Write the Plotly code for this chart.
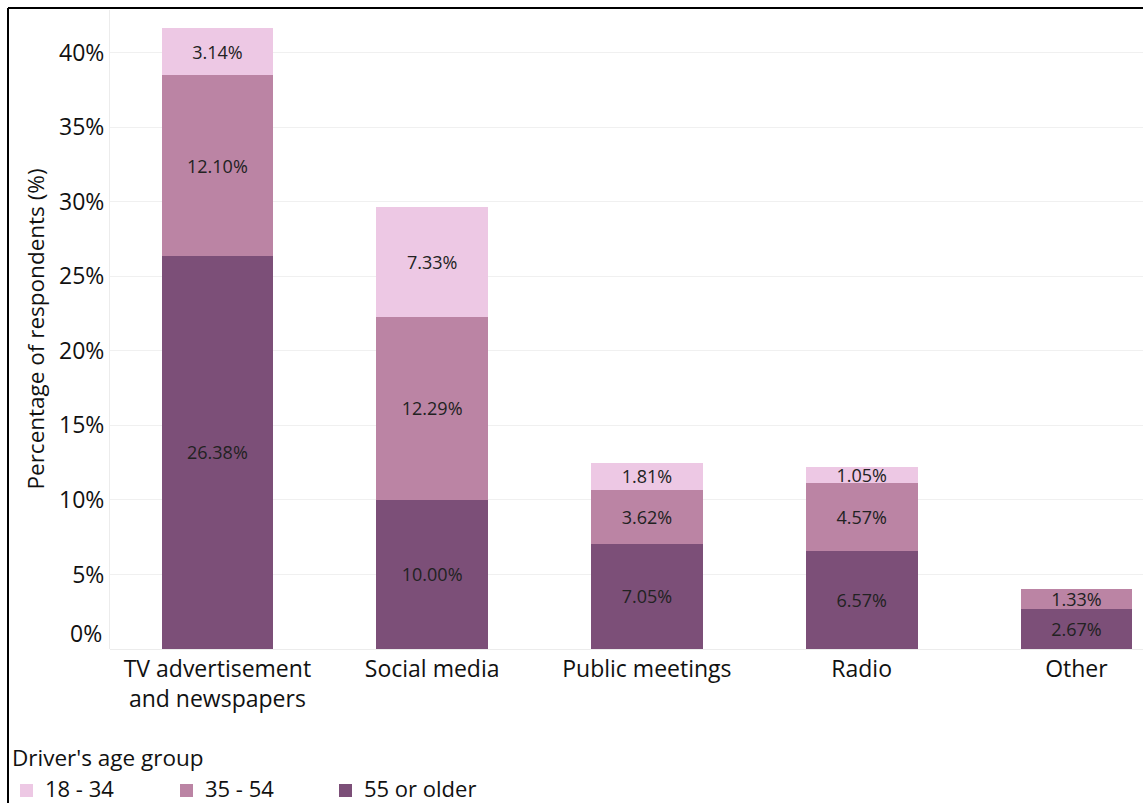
import plotly.graph_objects as go

# Information channels and share of respondents by driver's age group
channels = ["TV advertisement<br>and newspapers", "Social media", "Public meetings", "Radio", "Other"]
age_55_plus = [26.38, 10.00, 7.05, 6.57, 2.67]
age_35_54 = [12.10, 12.29, 3.62, 4.57, 1.33]
age_18_34 = [3.14, 7.33, 1.81, 1.05, None]

y_ticks = [0, 5, 10, 15, 20, 25, 30, 35, 40]

series = [
    ("55 or older", age_55_plus, "#7c4f78"),
    ("35 - 54", age_35_54, "#bb84a4"),
    ("18 - 34", age_18_34, "#edc8e4"),
]

W, H = 1143, 803
L, R, T, B = 110, 0, 10, 154
FONT = "Open Sans, Segoe UI, sans-serif"
INK = "#111111"
FS = 23

fig = go.Figure()
for name, vals, color in series:
    fig.add_trace(go.Bar(
        x=list(range(len(channels))),
        y=vals,
        name=name,
        marker=dict(color=color, line=dict(width=0)),
        texttemplate="%{y:.2f}%",
        textposition="inside",
        insidetextanchor="middle",
        constraintext="none",
        textangle=0,
        textfont=dict(family=FONT, size=18, color="#222222"),
        hoverinfo="skip",
        showlegend=False,
    ))

pw = W - L - R
ph = H - T - B
px = lambda x: (x - L) / pw
py = lambda y: (H - B - y) / ph

fig.update_layout(
    width=W, height=H,
    margin=dict(l=L, r=R, t=T, b=B, autoexpand=False),
    barmode="stack",
    bargap=0.48,
    plot_bgcolor="white",
    paper_bgcolor="white",
    font=dict(family=FONT, color=INK),
    showlegend=False,
    xaxis=dict(
        range=[-0.5, 4.31],
        tickvals=list(range(len(channels))),
        ticktext=channels,
        tickfont=dict(size=FS, color=INK),
        ticklabelstandoff=4,
        showgrid=False,
        zeroline=False,
        showline=False,
        ticks="",
    ),
    yaxis=dict(
        range=[0, 42.86],
        tickvals=y_ticks,
        ticktext=["" if v == 0 else f"{v}%" for v in y_ticks],
        tickfont=dict(size=FS, color=INK),
        showgrid=True,
        gridcolor="#f0f0f0",
        gridwidth=1,
        zeroline=True,
        zerolinecolor="#ececec",
        zerolinewidth=1,
        showline=True,
        linecolor="#ececec",
        linewidth=1,
        ticks="",
    ),
)

# Axis title
fig.add_annotation(
    x=px(35), y=0.5, xref="paper", yref="paper",
    text="Percentage of respondents (%)", textangle=-90,
    showarrow=False, font=dict(size=FS - 0.5, color=INK),
    xanchor="center", yanchor="middle",
)
# Baseline tick label sits slightly above the zero line
fig.add_annotation(
    x=px(104), y=0, xref="paper", yref="y",
    text="0%", showarrow=False, xanchor="right", yanchor="middle",
    yshift=16, font=dict(size=FS, color=INK),
)

# Legend: title above a row of swatches
fig.add_annotation(
    x=px(10), y=py(757), xref="paper", yref="paper",
    text="Driver's age group", showarrow=False,
    xanchor="left", yanchor="middle", font=dict(size=22.5, color=INK),
)
legend_x = [20, 180, 339]
for (name, _, color), lx in zip(reversed(series), legend_x):
    fig.add_shape(type="rect", xref="paper", yref="paper",
                  x0=px(lx), x1=px(lx + 13), y0=py(784), y1=py(797),
                  fillcolor=color, line=dict(width=0))
    fig.add_annotation(
        x=px(lx + 23), y=py(788), xref="paper", yref="paper",
        text=name, showarrow=False, xanchor="left", yanchor="middle",
        font=dict(size=22, color=INK),
    )

# Frame lines along the left and top edges
fig.add_shape(type="line", xref="paper", yref="paper",
              x0=px(8), x1=px(8), y0=py(8), y1=py(H + 5),
              line=dict(color="black", width=2))
fig.add_shape(type="line", xref="paper", yref="paper",
              x0=px(8), x1=px(W + 5), y0=py(8), y1=py(8),
              line=dict(color="black", width=2))

fig.write_html("out.html")
